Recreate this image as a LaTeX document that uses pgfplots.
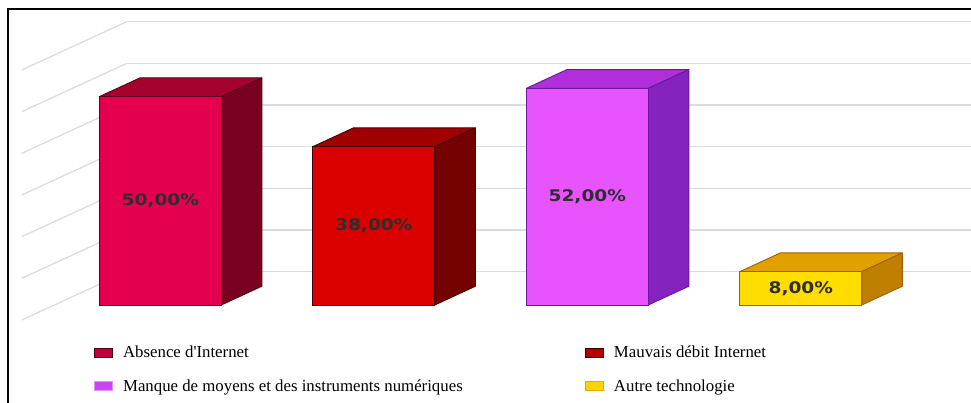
\documentclass[border=0pt]{standalone}
\usepackage{pgfplots}
\pgfplotsset{compat=1.18}
\usepackage{fontspec}
\setmainfont{Liberation Serif}
\newfontfamily\lblfont{DejaVu Sans}
\usepackage{graphicx}
\definecolor{cAf}{HTML}{E5004F}\definecolor{cAt}{HTML}{A6002F}\definecolor{cAs}{HTML}{7A0022}\definecolor{cAe}{HTML}{5A0018}
\definecolor{cBf}{HTML}{DA0000}\definecolor{cBt}{HTML}{A00000}\definecolor{cBs}{HTML}{740000}\definecolor{cBe}{HTML}{4A0000}
\definecolor{cCf}{HTML}{E754FD}\definecolor{cCt}{HTML}{B12FDB}\definecolor{cCs}{HTML}{8423BD}\definecolor{cCe}{HTML}{6A1A99}
\definecolor{cDf}{HTML}{FFDD00}\definecolor{cDt}{HTML}{DFA000}\definecolor{cDs}{HTML}{BF7F00}\definecolor{cDe}{HTML}{A06000}
\definecolor{gridc}{HTML}{DCDCDC}
\definecolor{lA}{HTML}{C4003A}\definecolor{lAe}{HTML}{4A0010}
\definecolor{lB}{HTML}{B00000}\definecolor{lBe}{HTML}{300000}
\definecolor{lC}{HTML}{C944F2}\definecolor{lCe}{HTML}{D898F0}
\definecolor{lD}{HTML}{FFD200}\definecolor{lDe}{HTML}{E8A800}
\pgfplotsset{
  mylegend/.style 2 args={legend image code/.code={\draw[fill=#1, draw=#2, line width=0.9bp] (0bp,-4.5bp) rectangle (18bp,4.5bp); \path (26bp,0bp);}},
  face/.style={line width=0.9bp, line join=round},
  gl/.style={color=gridc, line width=1.3bp, forget plot},
}
\newcommand{\lbl}[1]{{\lblfont\bfseries\fontsize{16bp}{18bp}\selectfont\color{black!82}\scalebox{1.16}[1]{#1}}}
\begin{document}
\begin{tikzpicture}
\begin{axis}[
  scale only axis, width=971bp, height=403bp,
  xmin=-0.7508, xmax=3.7972, ymin=-23.52, ymax=73.2,
  axis lines=none, ticks=none, clip=false,
  legend columns=2,
  legend cell align=left,
  legend style={draw=none, fill=none, at={(axis cs:-0.3105,-9.3)}, anchor=north west,
    font=\fontsize{16.8bp}{20bp}\selectfont, row sep=16.5bp, inner sep=0pt},
]
% back wall gridlines
\addplot[gl] coordinates {(-0.157,8) (3.7972,8)};
\addplot[gl] coordinates {(-0.157,18) (3.7972,18)};
\addplot[gl] coordinates {(-0.157,28) (3.7972,28)};
\addplot[gl] coordinates {(-0.157,38) (3.7972,38)};
\addplot[gl] coordinates {(-0.157,48) (3.7972,48)};
\addplot[gl] coordinates {(-0.157,58) (3.7972,58)};
\addplot[gl] coordinates {(-0.157,68) (3.7972,68)};
% left wall lines
\addplot[gl] coordinates {(-0.649,-3.6) (-0.157,8)};
\addplot[gl] coordinates {(-0.649,6.4) (-0.157,18)};
\addplot[gl] coordinates {(-0.649,16.4) (-0.157,28)};
\addplot[gl] coordinates {(-0.649,26.4) (-0.157,38)};
\addplot[gl] coordinates {(-0.649,36.4) (-0.157,48)};
\addplot[gl] coordinates {(-0.649,46.4) (-0.157,58)};
\addplot[gl] coordinates {(-0.649,56.4) (-0.157,68)};
% frame
\addplot[black, line width=2bp, forget plot] coordinates {(-0.712,-23.52) (-0.712,71.04) (3.7972,71.04)};
% bar 1
\addplot[face, fill=cAt, draw=cAe, forget plot] coordinates {(-0.2857,50) (0.2857,50) (0.4757,54.5) (-0.0957,54.5)} -- cycle;
\addplot[face, fill=cAs, draw=cAe, forget plot] coordinates {(0.2857,0) (0.4757,4.5) (0.4757,54.5) (0.2857,50)} -- cycle;
\addplot[ybar, bar width=0.5714, bar shift=0pt, fill=cAf, draw=cAe, line width=0.9bp, mylegend={lA}{lAe}] coordinates {(0,50)};
\addlegendentry{\makebox[460bp][l]{Absence d\textquotesingle Internet}}
% bar 2
\addplot[face, fill=cBt, draw=cBe, forget plot] coordinates {(0.7143,38) (1.2857,38) (1.4757,42.5) (0.9043,42.5)} -- cycle;
\addplot[face, fill=cBs, draw=cBe, forget plot] coordinates {(1.2857,0) (1.4757,4.5) (1.4757,42.5) (1.2857,38)} -- cycle;
\addplot[ybar, bar width=0.5714, bar shift=0pt, fill=cBf, draw=cBe, line width=0.9bp, mylegend={lB}{lBe}] coordinates {(1,38)};
\addlegendentry{Mauvais débit Internet}
% bar 3
\addplot[face, fill=cCt, draw=cCe, forget plot] coordinates {(1.7143,52) (2.2857,52) (2.4757,56.5) (1.9043,56.5)} -- cycle;
\addplot[face, fill=cCs, draw=cCe, forget plot] coordinates {(2.2857,0) (2.4757,4.5) (2.4757,56.5) (2.2857,52)} -- cycle;
\addplot[ybar, bar width=0.5714, bar shift=0pt, fill=cCf, draw=cCe, line width=0.9bp, mylegend={lC}{lCe}] coordinates {(2,52)};
\addlegendentry{\makebox[460bp][l]{Manque de moyens et des instruments numériques}}
% bar 4
\addplot[face, fill=cDt, draw=cDe, forget plot] coordinates {(2.7143,8) (3.2857,8) (3.4757,12.5) (2.9043,12.5)} -- cycle;
\addplot[face, fill=cDs, draw=cDe, forget plot] coordinates {(3.2857,0) (3.4757,4.5) (3.4757,12.5) (3.2857,8)} -- cycle;
\addplot[ybar, bar width=0.5714, bar shift=0pt, fill=cDf, draw=cDe, line width=0.9bp, mylegend={lD}{lDe}] coordinates {(3,8)};
\addlegendentry{Autre technologie}
% labels
\node at (axis cs:0,25) {\lbl{50,00\%}};
\node at (axis cs:1,19) {\lbl{38,00\%}};
\node at (axis cs:2,26) {\lbl{52,00\%}};
\node at (axis cs:3,4) {\lbl{8,00\%}};
\end{axis}
\pgfresetboundingbox
\path (current axis.south west) rectangle (current axis.north east);
\end{tikzpicture}
\end{document}
